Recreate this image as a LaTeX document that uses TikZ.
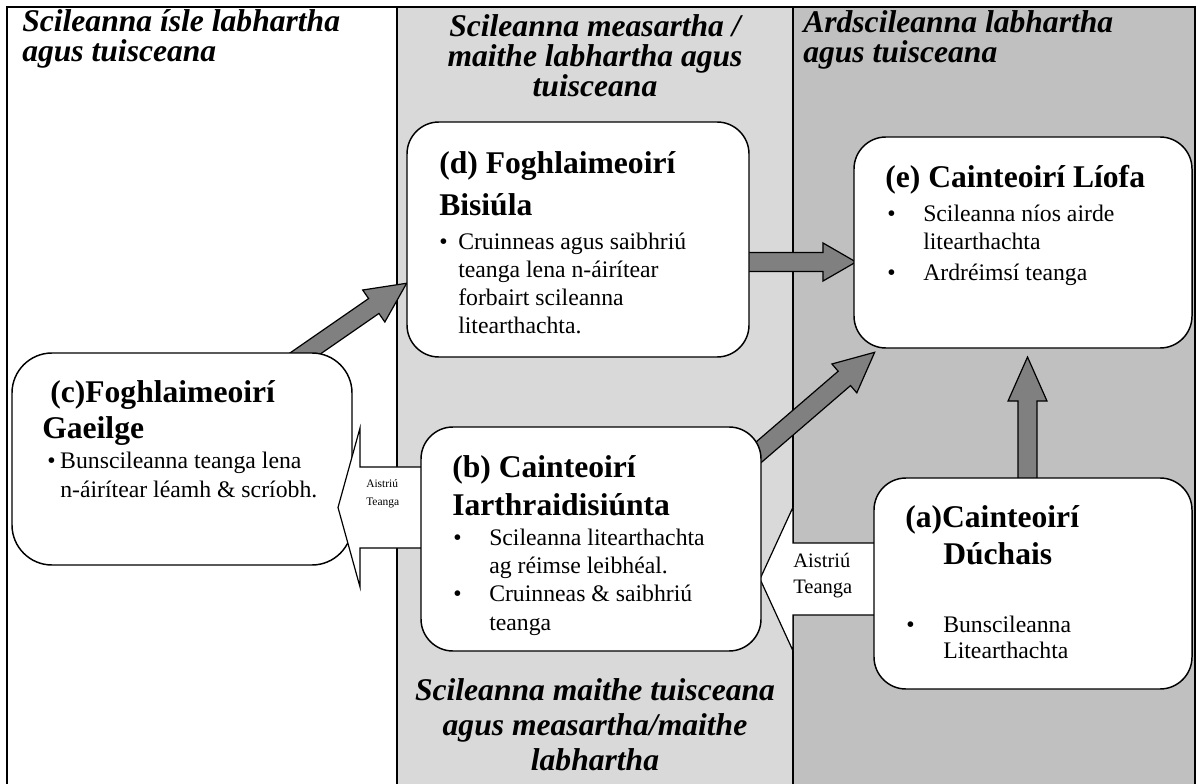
\documentclass[tikz,border=0pt]{standalone}
\usepackage{fontspec}
\setmainfont{Liberation Serif}
\usetikzlibrary{calc}
\definecolor{lightband}{RGB}{217,217,217}
\definecolor{darkband}{RGB}{192,192,192}
\definecolor{arrowgrey}{RGB}{128,128,128}

% block arrow: [style]{from}{to}{shaft half width}{head half width}{head length}
\newcommand\blockarrow[6][]{%
 \draw[blockarr,#1] let \p1=($(#3)-(#2)$),\n1={atan2(\y1,\x1)},\n2={veclen(\x1,\y1)} in
  [shift={(#2)},rotate=\n1]
  (0pt,#4)--({\n2*1pt-#6},#4)--({\n2*1pt-#6},#5)--({\n2*1pt},0pt)
  --({\n2*1pt-#6},-#5)--({\n2*1pt-#6},-#4)--(0pt,-#4)--cycle;}

\begin{document}
\begin{tikzpicture}[x=0.75pt,y=-0.75pt,
 frame/.style={line width=1.5pt},
 card/.style={draw,fill=white,line width=1.1pt,rounded corners=24pt,inner sep=0pt},
 blockarr/.style={draw,fill=arrowgrey,line width=0.9pt,line join=miter},
 colhead/.style={font=\fontsize{23.7}{#1}\selectfont\bfseries\itshape,inner sep=0pt},
 colhead/.default=22.5pt,
 boxtitle/.style={font=\fontsize{23.7}{#1}\selectfont\bfseries,align=left,anchor=base west,inner sep=0pt},
 boxtitle/.default=28pt,
 bodytext/.style={font=\fontsize{17.8}{#1}\selectfont,align=left,anchor=base west,inner sep=0pt},
 bodytext/.default=20.8pt,
 swap/.style 2 args={font=\fontsize{#1}{#2}\selectfont,align=left,anchor=base west,inner sep=0pt}]
\useasboundingbox (0,0) rectangle (1198,784);

% bands and frame
\fill[lightband] (397,7) rectangle (793,784);
\fill[darkband] (793,7) rectangle (1195,784);
\draw[frame] (7,784) |- (1195,7) -- (1195,784);
\draw[frame] (397,7) -- (397,784);
\draw[frame] (793,7) -- (793,784);

% column headings (anchored at the last line)
\node[colhead,align=left,anchor=base west] (h1) at (22,62) {Scileanna ísle labhartha\\agus tuisceana};
\node[colhead,align=center,anchor=base] (h2) at (595,97) {Scileanna measartha /\\maithe labhartha agus\\tuisceana};
\node[colhead,align=left,anchor=base west] (h3) at (803,63) {Ardscileanna labhartha\\agus tuisceana};
\node[colhead=26.25pt,align=center,anchor=base] (h4) at (595,770) {Scileanna maithe tuisceana\\agus measartha/maithe\\labhartha};

% arrow ends
\coordinate (cd0) at (290,364);  \coordinate (cd1) at (407,283);
\coordinate (de0) at (745,262);  \coordinate (de1) at (856,262);
\coordinate (be0) at (745,464);  \coordinate (be1) at (875,352);
\coordinate (ae0) at (1027.5,485); \coordinate (ae1) at (1027.5,357);
\coordinate (ab0) at (885,579);  \coordinate (ab1) at (760,579);
\coordinate (bc0) at (430,507.5); \coordinate (bc1) at (338,507.5);

\blockarrow{cd0}{cd1}{6.8pt}{14.6pt}{30pt}
\blockarrow{de0}{de1}{7.1pt}{14.3pt}{24.8pt}
\blockarrow{be0}{be1}{7.1pt}{14.3pt}{30pt}
\blockarrow{ae0}{ae1}{7.1pt}{14.6pt}{33pt}
\blockarrow[fill=white]{ab0}{ab1}{27pt}{54pt}{24.8pt}

% boxes
\node[card,rounded corners=30pt,minimum width=255pt,minimum height=159pt] (c) at (182,459) {};
\node[card,minimum width=256.5pt,minimum height=176.25pt] (d) at (578,239.5) {};
\node[card,minimum width=253.5pt,minimum height=158.25pt] (e) at (1023,242.5) {};
\node[card,minimum width=238.5pt,minimum height=158.25pt] (a) at (1033,583.5) {};
\blockarrow[fill=white]{bc0}{bc1}{30.4pt}{59.6pt}{16.5pt}
\node[card,minimum width=255pt,minimum height=168pt] (b) at (591,539) {};

% box texts (anchored at the last line)
\node[boxtitle=31.5pt] (dT) at (439,215) {(d) Foghlaimeoirí\\Bisiúla};
\node[bodytext] (dB) at (439,333) {\makebox[14.25pt][l]{\textbullet}Cruinneas agus saibhriú\\
 \hspace*{14.25pt}teanga lena n-áirítear\\\hspace*{14.25pt}forbairt scileanna\\\hspace*{14.25pt}litearthachta.};
\node[boxtitle] (eT) at (885,188) {(e) Cainteoirí Líofa};
\node[bodytext] (eB) at (887,280) {\makebox[27pt][l]{\textbullet}Scileanna níos airde\\
 \hspace*{27pt}litearthachta\\[2pt]\makebox[27pt][l]{\textbullet}Ardréimsí teanga};
\node[boxtitle=27pt] (cT) at (42,438) {\hspace*{6pt}(c)Foghlaimeoirí\\Gaeilge};
\node[bodytext=21.75pt] (cB) at (47,497) {\makebox[9.75pt][l]{\textbullet}Bunscileanna teanga lena\\
 \hspace*{9.75pt}n-áirítear léamh \& scríobh.};
\node[boxtitle=28.5pt] (bT) at (452,515) {(b) Cainteoirí\\Iarthraidisiúnta};
\node[bodytext=21.25pt] (bB) at (453,630) {\makebox[27pt][l]{\textbullet}Scileanna litearthachta\\
 \hspace*{27pt}ag réimse leibhéal.\\\makebox[27pt][l]{\textbullet}Cruinneas \& saibhriú\\\hspace*{27pt}teanga};
\node[boxtitle=27.75pt] (aT) at (905,564) {(a)Cainteoirí\\\hspace*{28.5pt}Dúchais};
\node[bodytext=19.5pt] (aB) at (906,658) {\makebox[27.75pt][l]{\textbullet}Bunscileanna\\\hspace*{27.75pt}Litearthachta};

% arrow labels
\node[swap={15.4pt}{19.5pt}] (abL) at (793,593) {Aistriú\\Teanga};
\node[swap={8.6pt}{13.5pt}] (bcL) at (366,505) {Aistriú\\Teanga};
\end{tikzpicture}
\end{document}
